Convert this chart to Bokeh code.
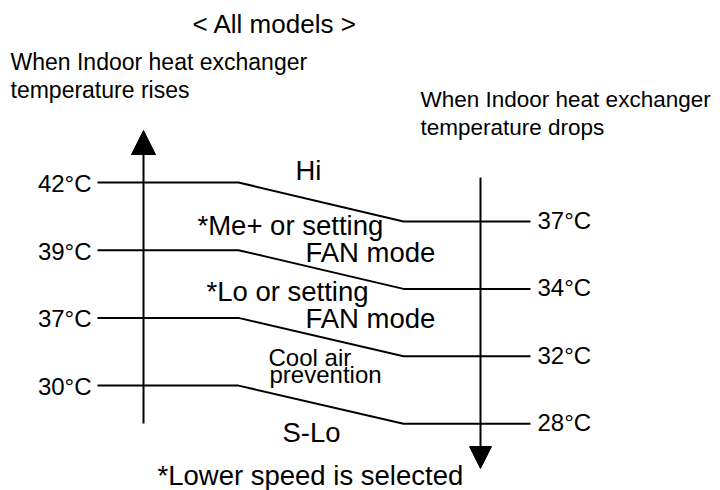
from bokeh.plotting import figure
from bokeh.models import Range1d, Arrow, NormalHead, ColumnDataSource
from bokeh.embed import file_html
from bokeh.resources import INLINE
from bokeh.core.properties import value

# ---------------- data ----------------
title_text = "< All models >"
rise_header = ["When Indoor heat exchanger", "temperature rises"]
drop_header = ["When Indoor heat exchanger", "temperature drops"]
rise_temps = [42, 39, 37, 30]      # switching points when temperature rises (left scale)
drop_temps = [37, 34, 32, 28]      # switching points when temperature drops (right scale)
zone_big = ["Hi", "*Me+ or setting", "FAN mode", "*Lo or setting", "FAN mode", "S-Lo"]
zone_small = ["Cool air", "prevention"]
footnote = "*Lower speed is selected"

# ---------------- layout ----------------
FONT = value("Liberation Sans")
Y0_L, DY_L = 182.0, 67.7          # left level positions (px)
Y0_R, DY_R = 221.0, 67.4          # right level positions (px)
X_LEFT, X_BEND1, X_BEND2, X_RIGHT = 97, 238, 403, 530
X_AX_L, X_AX_R = 143, 480
TEXT_DY = -8                      # baseline correction for rendered text

lev = list(range(len(rise_temps)))
yl = [Y0_L + DY_L * i for i in lev]
yr = [Y0_R + DY_R * i for i in lev]

p = figure(width=720, height=490, output_backend="svg", toolbar_location=None,
           x_range=Range1d(0, 720), y_range=Range1d(490, 0), min_border=0)
p.axis.visible = False
p.grid.visible = False
p.outline_line_color = None
p.background_fill_color = "white"
p.border_fill_color = "white"

# level lines
src = ColumnDataSource(dict(
    xs=[[X_LEFT, X_BEND1, X_BEND2, X_RIGHT] for _ in lev],
    ys=[[a, a, b, b] for a, b in zip(yl, yr)],
))
p.multi_line("xs", "ys", source=src, line_color="black", line_width=2)

# axes arrows
p.add_layout(Arrow(end=NormalHead(size=24, fill_color="black", line_color="black"),
                   x_start=X_AX_L, y_start=yl[-1] + 38, x_end=X_AX_L, y_end=130,
                   line_width=2, line_color="black"))
p.add_layout(Arrow(end=NormalHead(size=22, fill_color="black", line_color="black"),
                   x_start=X_AX_R, y_start=177, x_end=X_AX_R, y_end=468,
                   line_width=2, line_color="black"))

def txt(x, y, t, size, align="left"):
    p.text(x=x, y=[v + TEXT_DY for v in y], text=t, text_font=FONT,
           text_font_size=value(size), text_align=align,
           text_baseline="alphabetic", text_color="black")

# temperature labels
txt([91] * len(lev), [y + 9 for y in yl], [f"{t}°C" for t in rise_temps], "24px", "right")
txt([537] * len(lev), [y + 7 for y in yr], [f"{t}°C" for t in drop_temps], "24px", "left")

# title and headers
txt([192], [31], [title_text], "26px")
txt([10, 10], [69, 97], rise_header, "23px")
txt([420, 420], [107, 135], drop_header, "22.5px")

# zone labels
txt([295, 197, 305, 206, 305, 282], [178, 233, 260, 299, 326, 440], zone_big, "27.5px")
txt([268, 269], [365, 382], zone_small, "24px")
txt([157], [483], [footnote], "27.5px")

open("out.html", "w").write(file_html(p, INLINE))
